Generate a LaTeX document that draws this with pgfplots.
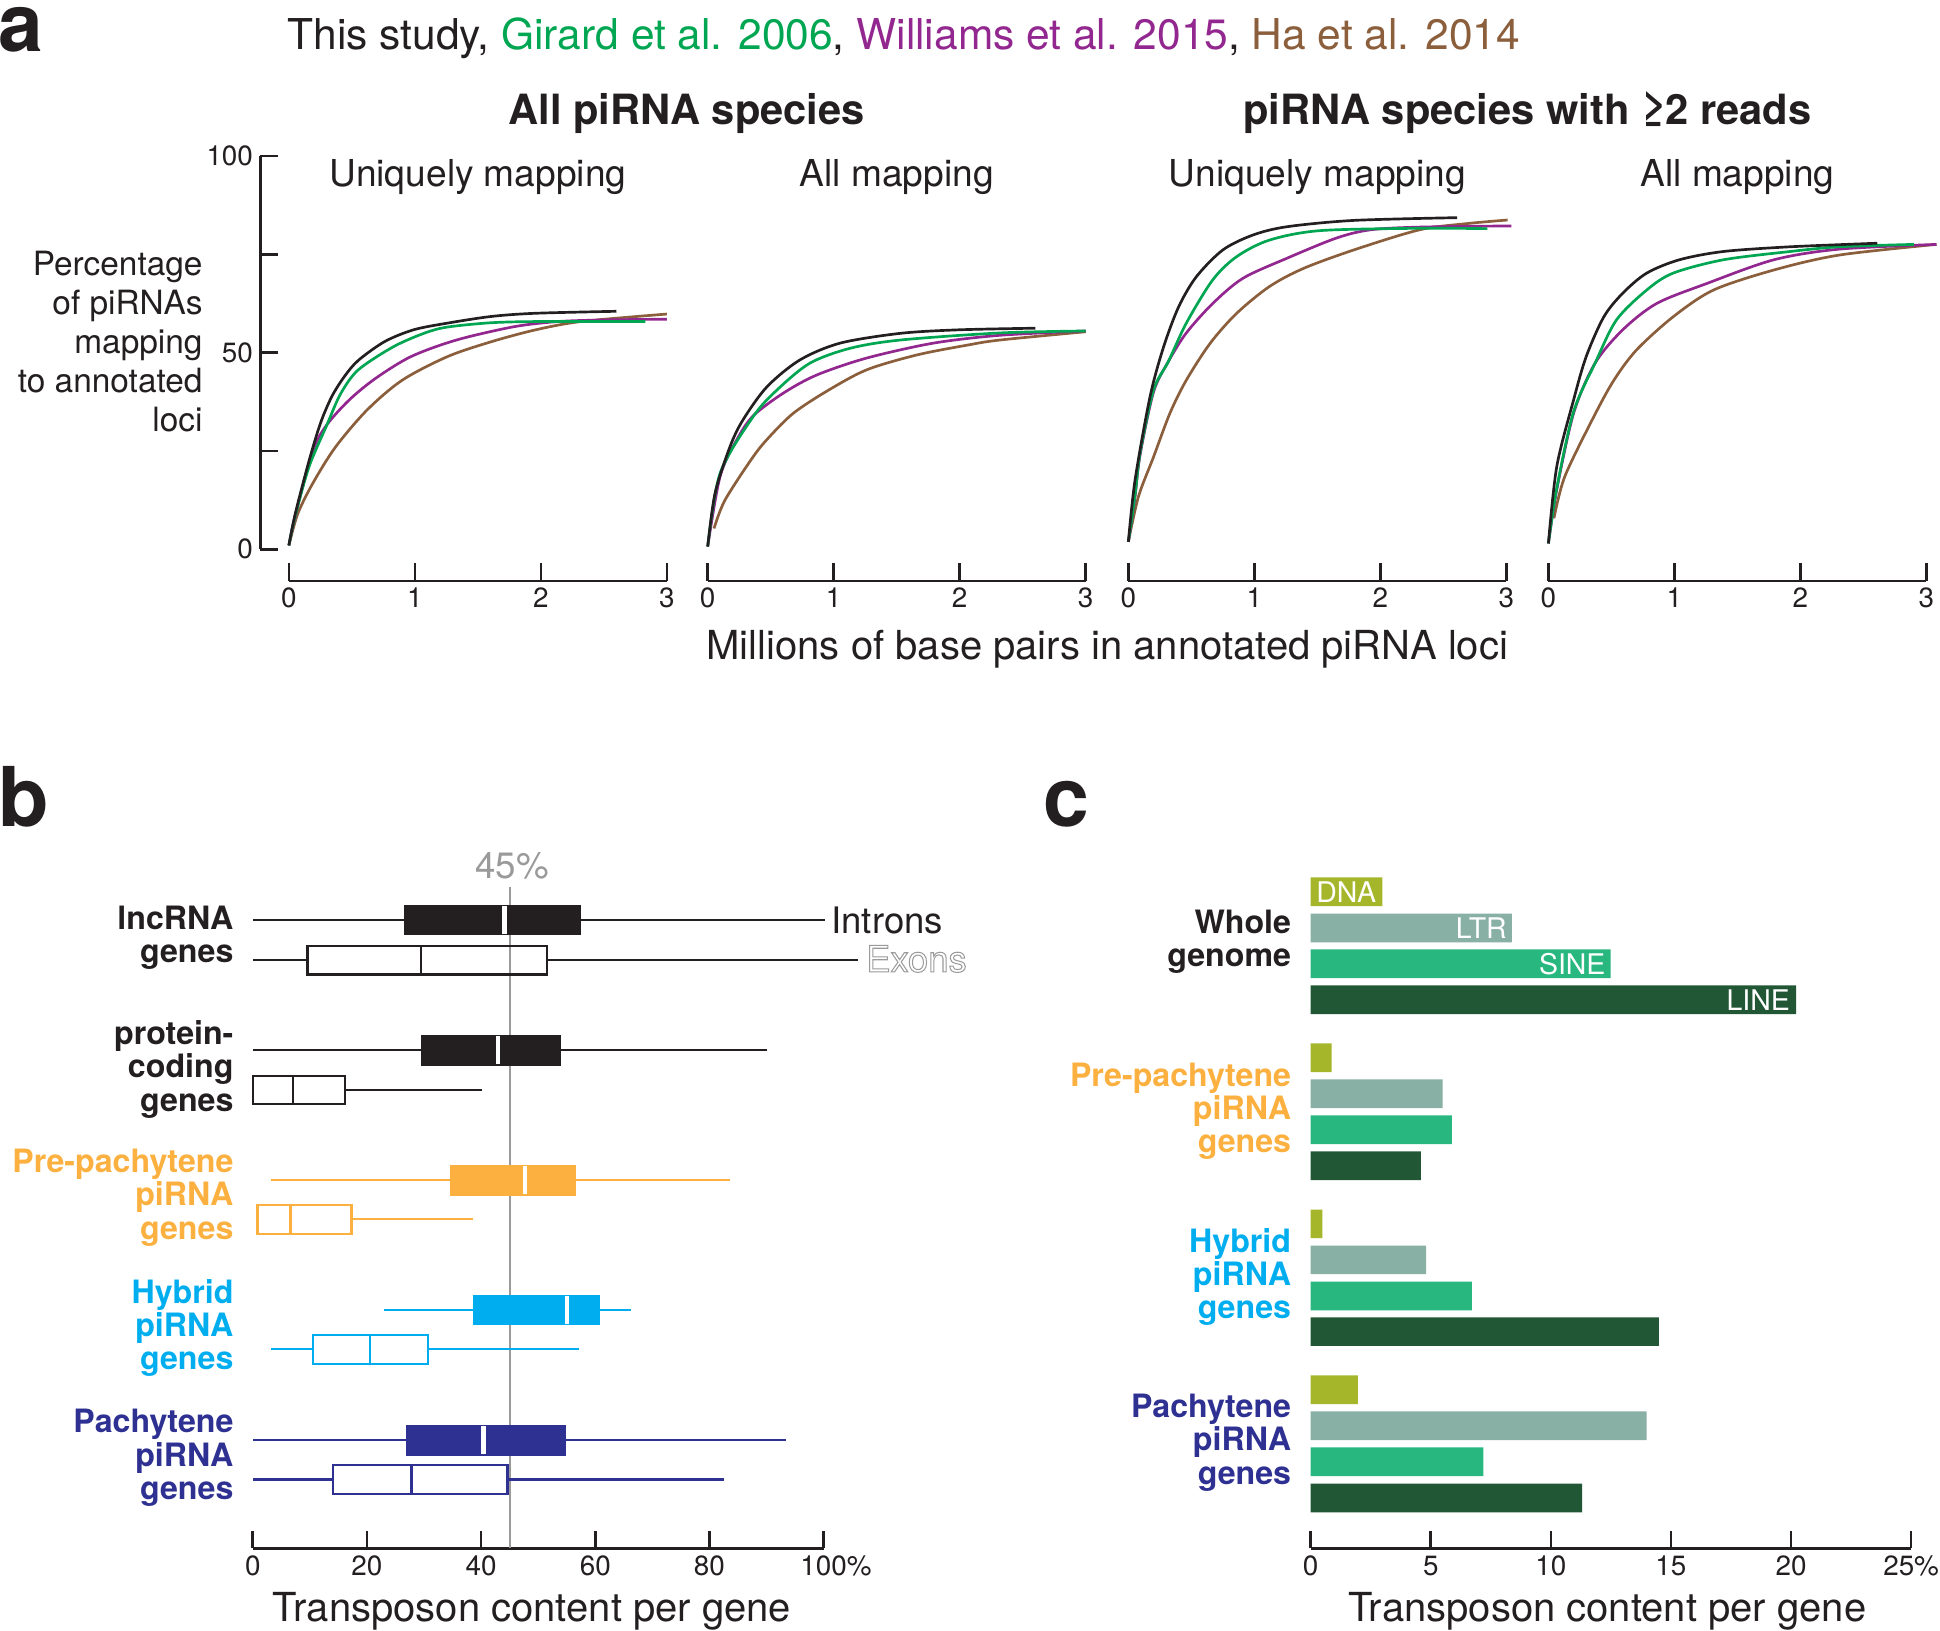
\documentclass[border=0pt]{standalone}
\usepackage{pgfplots}
\pgfplotsset{compat=1.18}
\usepgfplotslibrary{statistics}
\usepackage{fontspec}
\setmainfont{TeX Gyre Heros}
\definecolor{cblack}{HTML}{231F20}
\definecolor{cgreen}{HTML}{00A651}
\definecolor{cpurple}{HTML}{92278F}
\definecolor{cbrown}{HTML}{8B5E3C}
\definecolor{corange}{HTML}{FBB040}
\definecolor{ccyan}{HTML}{00AEEF}
\definecolor{cnavy}{HTML}{2E3192}
\definecolor{cgray}{HTML}{9A9A9A}
\definecolor{cdna}{HTML}{A6B62A}
\definecolor{cltr}{HTML}{88B0A4}
\definecolor{csine}{HTML}{27B77F}
\definecolor{cline}{HTML}{225736}
\pgfplotsset{
  base/.style={scale only axis, anchor=south west, clip=false,
    axis line style={line width=1.3pt, cblack},
    tick style={line width=1.3pt, cblack},
    tick align=inside, major tick length=8.5pt,
    tick label style={font=\fontsize{13.5}{15}\selectfont, text=cblack},
    /pgf/number format/assume math mode=true},
  curveax/.style={base, width=183.3pt, height=206.1pt,
    xmin=0, xmax=3, ymin=-8.02, ymax=100,
    axis x line*=bottom, axis y line=none, xtick={0,1,2,3}},
  cur/.style={line width=1.3pt, smooth, tension=0.5, no markers},
  boxax/.style={base, height=336.9pt, ymin=-1251.5, ymax=-690,
    axis x line*=bottom, axis y line=none},
  bI/.style={draw=#1, fill=#1, line width=1.1pt},
  bE/.style={draw=#1, fill=none, line width=1.1pt},
  cb/.style={xbar, bar width=23.2, bar shift=0pt, draw=none, fill=#1},
}
\begin{document}
\begin{tikzpicture}
\path[use as bounding box] (0pt,0pt) rectangle (940.8pt,790.8pt);
% ---------- panel a ----------
\node[anchor=base west, inner sep=0pt, font=\bfseries\fontsize{39}{39}\selectfont, text=cblack] at (-1pt,766pt) {a};
\node[anchor=base west, inner sep=0pt, font=\fontsize{20.6}{24}\selectfont, text=cblack] at (139.2pt,766.8pt)
  {This study, \textcolor{cgreen}{Girard et al. 2006}, \textcolor{cpurple}{Williams et al. 2015}, \textcolor{cbrown}{Ha et al. 2014}};
\node[anchor=base, inner sep=0pt, font=\bfseries\fontsize{20.2}{24}\selectfont, text=cblack] at (333pt,730.2pt) {All piRNA species};
\node[anchor=base, inner sep=0pt, font=\bfseries\fontsize{20.2}{24}\selectfont, text=cblack] at (740.7pt,730.2pt) {piRNA species with ≥2 reads};
\foreach \xx/\tt in {231.75/Uniquely mapping, 434.85/All mapping, 638.85/Uniquely mapping, 842.55/All mapping}
  {\node[anchor=base, inner sep=0pt, font=\fontsize{18}{22}\selectfont, text=cblack] at (\xx pt,700.2pt) {\tt};}
\node[anchor=east, inner sep=0pt, align=right, font=\fontsize{16.2}{18.9}\selectfont, text=cblack] at (98.4pt,625.2pt)
  {Percentage\\of piRNAs\\mapping\\to annotated\\loci};
\node[anchor=base, inner sep=0pt, font=\fontsize{19.4}{23}\selectfont, text=cblack] at (537pt,471pt)
  {Millions of base pairs in annotated piRNA loci};

\begin{axis}[base, width=10pt, height=190.8pt, at={(126.2pt,524.4pt)},
  xmin=0, xmax=1, ymin=0, ymax=100, axis y line*=left, axis x line=none,
  ytick={0,25,50,75,100}, yticklabels={0,,50,,100}]
\addplot[draw=none] coordinates {(0.5,50)};
\end{axis}

\begin{axis}[curveax, at={(140.1pt,509.1pt)}]
\addplot[cur, cbrown] coordinates {(0,1) (0.07,9) (0.19,16.8) (0.37,26) (0.62,35.4) (0.9,43) (1.26,49) (1.61,52.8) (1.96,55.8) (2.32,57.9) (3.0,59.8)};
\addplot[cur, cpurple] coordinates {(0,1) (0.05,8.5) (0.19,25) (0.3,31.6) (0.48,38) (0.69,43.5) (0.97,49) (1.33,53.2) (1.79,56.6) (2.14,57.9) (2.5,58.3) (3.0,58.5)};
\addplot[cur, cgreen] coordinates {(0,1) (0.05,8.5) (0.16,21) (0.3,31.5) (0.41,39.5) (0.55,45.6) (0.83,51.5) (1.08,55) (1.26,56.5) (1.61,57.6) (2.0,57.9) (2.83,57.9)};
\addplot[cur, cblack] coordinates {(0,1) (0.05,9) (0.16,22.5) (0.25,32) (0.34,38.8) (0.44,43.9) (0.55,48) (0.76,52.8) (0.99,55.8) (1.26,57.5) (1.61,59.2) (1.96,60) (2.6,60.5)};
\end{axis}

\begin{axis}[curveax, at={(343.2pt,509.1pt)}]
\addplot[cur, cbrown] coordinates {(0.05,5.3) (0.137,12.5) (0.36,23.5) (0.49,28.6) (0.68,34.6) (0.94,40.1) (1.26,45.6) (1.66,49.4) (2.06,51.9) (2.32,53.2) (3.0,55.3)};
\addplot[cur, cpurple] coordinates {(0,0.7) (0.098,18.5) (0.23,27.8) (0.36,33.9) (0.6,39.7) (0.865,44.3) (1.26,48.6) (1.79,52.4) (2.32,54.4) (3.0,55.5)};
\addplot[cur, cgreen] coordinates {(0,0.7) (0.098,19.3) (0.36,33.7) (0.55,40.5) (0.81,47.3) (1.13,51.1) (1.53,53.2) (2.32,55) (3.0,55.5)};
\addplot[cur, cblack] coordinates {(0,0.7) (0.058,14.2) (0.177,26.1) (0.28,32.9) (0.47,41.3) (0.73,48.1) (1.05,52.4) (1.53,54.9) (2.0,55.8) (2.6,56.2)};
\end{axis}

\begin{axis}[curveax, at={(547.2pt,509.1pt)}]
\addplot[cur, cbrown] coordinates {(0,1.9) (0.08,13.4) (0.2,23.5) (0.33,34.6) (0.46,43) (0.65,52.4) (0.86,60) (1.12,66.8) (1.39,71.4) (1.79,76.1) (2.31,81.2) (2.69,82.8) (3.01,83.7)};
\addplot[cur, cpurple] coordinates {(0,1.9) (0.053,13.4) (0.093,24) (0.2,40) (0.317,47.7) (0.46,55) (0.67,62.5) (0.91,68.9) (1.26,74) (1.65,79.1) (1.92,81.2) (2.31,81.9) (3.04,82.2)};
\addplot[cur, cgreen] coordinates {(0,1.9) (0.053,13.8) (0.093,24.5) (0.2,40.5) (0.317,47.7) (0.46,57.5) (0.67,68.5) (0.86,74.4) (1.12,78.6) (1.52,81) (2.31,81.6) (2.85,81.5)};
\addplot[cur, cblack] coordinates {(0,1.9) (0.053,17.6) (0.172,38.8) (0.28,51.5) (0.40,61.7) (0.54,69.3) (0.75,76.1) (0.99,79.9) (1.26,82) (1.79,83.6) (2.61,84.3)};
\end{axis}

\begin{axis}[curveax, at={(750.9pt,509.1pt)}]
\addplot[cur, cbrown] coordinates {(0.044,7.9) (0.13,18.5) (0.36,33.7) (0.52,43) (0.70,50.7) (0.99,59.1) (1.31,65.9) (1.79,71) (2.31,74.8) (3.08,77.5)};
\addplot[cur, cpurple] coordinates {(0,1.5) (0.066,15.1) (0.2,34.6) (0.37,47.3) (0.59,55.8) (0.86,62.5) (1.26,67.6) (1.79,73.6) (2.31,76.3) (3.08,77.5)};
\addplot[cur, cgreen] coordinates {(0,1.5) (0.066,15.5) (0.2,35) (0.37,47.3) (0.54,58.3) (0.78,65.9) (0.99,70.2) (1.39,73.6) (1.92,75.7) (2.31,76.9) (2.9,77.5)};
\addplot[cur, cblack] coordinates {(0,1.5) (0.066,21) (0.2,38) (0.30,49) (0.44,59.1) (0.59,65.1) (0.78,70.2) (1.04,73.6) (1.39,75.7) (1.92,76.9) (2.61,77.8)};
\end{axis}

% ---------- panel b ----------
\node[anchor=base west, inner sep=0pt, font=\bfseries\fontsize{40}{40}\selectfont, text=cblack] at (-1pt,390pt) {b};
\begin{axis}[boxax, width=276.8pt, at={(122.6pt,39.9pt)},
  xmin=0, xmax=100, xtick={0,20,40,60,80,100}, xticklabels={0,20,40,60,80,100\rlap{\%}},
  boxplot/draw direction=x]
\addplot[cgray, line width=0.9pt] coordinates {(45,-716.7) (45,-1251.5)};
% lncRNA
\addplot[bI=cblack, boxplot prepared={lower whisker=0, lower quartile=26.7, median=44.1, upper quartile=57.3, upper whisker=100.2, draw position=-743.6, box extend=23.2, whisker extend=0, every median/.style={white, line width=2.1pt}}] coordinates {};
\addplot[bE=cblack, boxplot prepared={lower whisker=0, lower quartile=9.6, median=29.5, upper quartile=51.5, upper whisker=106, draw position=-776, box extend=23.2, whisker extend=0}] coordinates {};
% protein-coding
\addplot[bI=cblack, boxplot prepared={lower whisker=0, lower quartile=29.6, median=43, upper quartile=53.8, upper whisker=90, draw position=-848.7, box extend=23.2, whisker extend=0, every median/.style={white, line width=2.1pt}}] coordinates {};
\addplot[bE=cblack, boxplot prepared={lower whisker=0, lower quartile=0, median=7, upper quartile=16.1, upper whisker=40.1, draw position=-881, box extend=23.2, whisker extend=0}] coordinates {};
% pre-pachytene
\addplot[bI=corange, boxplot prepared={lower whisker=3.1, lower quartile=34.8, median=47.7, upper quartile=56.4, upper whisker=83.6, draw position=-953.8, box extend=23.2, whisker extend=0, every median/.style={white, line width=2.1pt}}] coordinates {};
\addplot[bE=corange, boxplot prepared={lower whisker=0.8, lower quartile=0.8, median=6.6, upper quartile=17.3, upper whisker=38.5, draw position=-985.5, box extend=23.2, whisker extend=0}] coordinates {};
% hybrid
\addplot[bI=ccyan, boxplot prepared={lower whisker=23, lower quartile=38.8, median=55, upper quartile=60.7, upper whisker=66.2, draw position=-1058.8, box extend=23.2, whisker extend=0, every median/.style={white, line width=2.1pt}}] coordinates {};
\addplot[bE=ccyan, boxplot prepared={lower whisker=3.1, lower quartile=10.5, median=20.5, upper quartile=30.7, upper whisker=57.1, draw position=-1090.6, box extend=23.2, whisker extend=0}] coordinates {};
% pachytene
\addplot[bI=cnavy, boxplot prepared={lower whisker=0, lower quartile=27.1, median=40.4, upper quartile=54.6, upper whisker=93.4, draw position=-1163.9, box extend=23.2, whisker extend=0, every median/.style={white, line width=2.1pt}}] coordinates {};
\addplot[bE=cnavy, boxplot prepared={lower whisker=0, lower quartile=14, median=27.8, upper quartile=44.6, upper whisker=82.5, draw position=-1195.7, box extend=23.2, whisker extend=0}] coordinates {};
\node[anchor=base, inner sep=0pt, text=cgray, font=\fontsize{17.8}{20}\selectfont] at (axis cs:45.4,-710) {45\%};
\node[anchor=west, inner sep=0pt, text=cblack, font=\fontsize{17.7}{20}\selectfont] at (axis cs:101.3,-743.6) {Introns};
\node[anchor=west, inner sep=0pt, text=cgray, font=\fontsize{17.7}{20}\selectfont] at (axis cs:107.4,-775) {\special{pdf:literal direct 1 Tr 0.5 w}Exons};
\end{axis}
\node[anchor=base, inner sep=0pt, font=\fontsize{19.4}{23}\selectfont, text=cblack] at (258pt,4.4pt) {Transposon content per gene};
\begin{scope}[every node/.style={anchor=east, inner sep=0pt, align=right, font=\bfseries\fontsize{15.6}{16.1}\selectfont}]
\node[text=cblack] at (113.4pt,336.0pt) {lncRNA\\genes};
\node[text=cblack] at (113.4pt,272.2pt) {protein-\\coding\\genes};
\node[text=corange] at (113.4pt,210pt) {Pre-pachytene\\piRNA\\genes};
\node[text=ccyan] at (113.4pt,146.9pt) {Hybrid\\piRNA\\genes};
\node[text=cnavy] at (113.4pt,83.8pt) {Pachytene\\piRNA\\genes};
\end{scope}

% ---------- panel c ----------
\node[anchor=base west, inner sep=0pt, font=\bfseries\fontsize{40}{40}\selectfont, text=cblack] at (506pt,390pt) {c};
\begin{axis}[boxax, width=291.2pt, at={(635.6pt,39.9pt)},
  xmin=0, xmax=25, xtick={0,5,10,15,20,25}, xticklabels={0,5,10,15,20,25\%}]
\addplot[cb=cdna] coordinates {(2.99,-720.7) (0.87,-854.9) (0.49,-989.2) (1.97,-1123.2)};
\addplot[cb=cltr] coordinates {(8.38,-750.1) (5.49,-884.1) (4.81,-1018.3) (13.99,-1152.3)};
\addplot[cb=csine] coordinates {(12.49,-778.9) (5.88,-913.2) (6.71,-1047.5) (7.19,-1181.5)};
\addplot[cb=cline] coordinates {(20.21,-808.1) (4.59,-942.3) (14.5,-1076.3) (11.3,-1210.8)};
\begin{scope}[every node/.style={inner sep=0pt, text=white, font=\fontsize{13.8}{16}\selectfont}]
\node[anchor=west] at (axis cs:0.22,-720.7) {DNA};
\node[anchor=east] at (axis cs:8.18,-750.1) {LTR};
\node[anchor=east] at (axis cs:12.29,-778.9) {SINE};
\node[anchor=east] at (axis cs:19.97,-808.1) {LINE};
\end{scope}
\end{axis}
\node[anchor=base, inner sep=0pt, font=\fontsize{19.4}{23}\selectfont, text=cblack] at (779.4pt,4.4pt) {Transposon content per gene};
\begin{scope}[every node/.style={anchor=east, inner sep=0pt, align=right, font=\bfseries\fontsize{15.6}{16.1}\selectfont}]
\node[text=cblack] at (626.3pt,334.1pt) {Whole\\genome};
\node[text=corange] at (626.3pt,252pt) {Pre-pachytene\\piRNA\\genes};
\node[text=ccyan] at (626.3pt,171.6pt) {Hybrid\\piRNA\\genes};
\node[text=cnavy] at (626.3pt,91.2pt) {Pachytene\\piRNA\\genes};
\end{scope}
\end{tikzpicture}
\end{document}
